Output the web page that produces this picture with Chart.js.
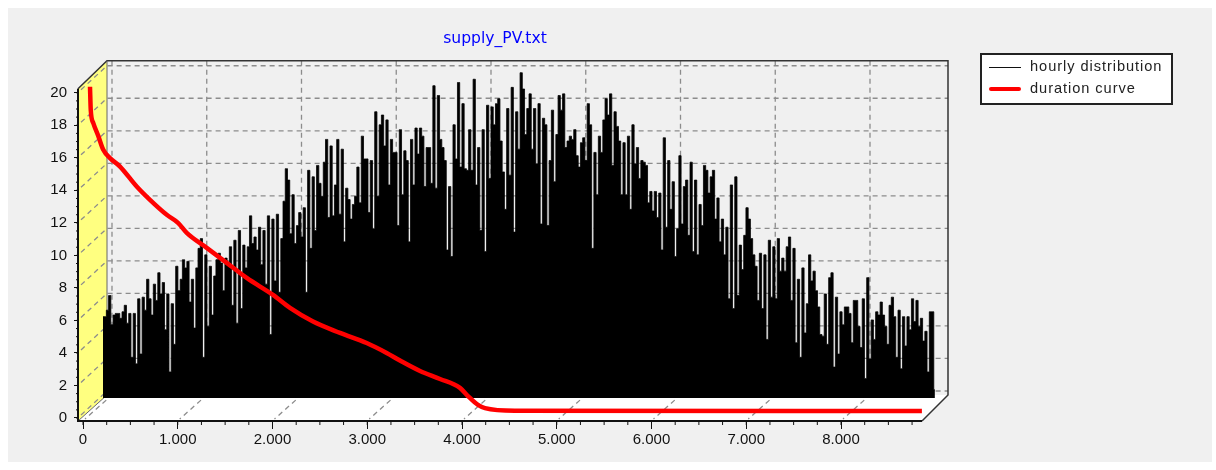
<!DOCTYPE html>
<html>
<head>
<meta charset="utf-8">
<title>supply_PV.txt</title>
<script src="https://cdn.jsdelivr.net/npm/chart.js@4"></script>
<style>
  html, body { margin: 0; padding: 0; background: #fff; }
  #panel { position: absolute; left: 8px; top: 8px; width: 1204px; height: 454px; background: #f0f0f0; }
  #wrap { position: absolute; left: 0; top: 0; width: 990px; height: 470px; filter: blur(0.45px); }
  #legend { position: absolute; left: 980px; top: 53px; width: 189px; height: 48px; background: #fff; border: 2px solid #222;
    font: 14.6px "Liberation Sans", Arial, sans-serif; letter-spacing: 0.95px; color: #222; filter: blur(0.45px); }
  #legend div { position: absolute; left: 48px; white-space: nowrap; }
  #legend i { position: absolute; left: 7px; width: 32px; }
</style>
</head>
<body>
<div id="panel"></div>
<div id="wrap"><canvas id="chart" width="990" height="470"></canvas></div>
<div id="legend"></div>
<script>
const TITLE = 'supply_PV.txt';
const HOURLY_LABEL = 'hourly distribution';
const DURATION_LABEL = 'duration curve';

const xTickValues = [0, 1000, 2000, 3000, 4000, 5000, 6000, 7000, 8000];
const xTickLabels = ['0', '1.000', '2.000', '3.000', '4.000', '5.000', '6.000', '7.000', '8.000'];
const yTickValues = [0, 2, 4, 6, 8, 10, 12, 14, 16, 18, 20];

// left to right, about one value per day
const hourlyPeaks = [
  5.0, 5.0, 5.4, 6.3, 4.5, 5.1, 5.2, 5.2, 4.9, 5.3, 5.7, 4.6, 5.2, 2.5, 5.2, 2.1, 6.1, 2.7, 6.2, 5.4,
  7.3, 6.1, 5.1, 7.0, 6.0, 7.7, 6.4, 7.1, 4.2, 6.4, 1.6, 5.8, 3.3, 8.1, 6.6, 7.3, 8.5, 8.0, 8.4, 5.9,
  7.3, 4.3, 8.0, 9.2, 9.8, 2.5, 8.8, 4.4, 8.1, 5.1, 7.5, 8.5, 8.9, 8.3, 6.6, 8.6, 8.2, 9.3, 5.7, 9.7,
  4.6, 10.3, 5.5, 9.4, 8.0,
  9.3, 11.2, 9.5, 9.9, 9.1, 10.5, 8.2, 10.3, 7.0, 11.2, 3.9, 11.0, 7.2, 11.3, 6.5, 9.8, 12.1, 14.1, 13.4, 10.1,
  12.5, 9.5, 10.6, 11.4, 9.9, 11.7, 6.5, 14.0, 9.2, 13.6, 10.3, 14.3, 13.2, 12.4, 14.5, 15.9, 11.1, 15.5, 11.2, 13.1,
  15.9, 11.3, 15.3, 9.6, 12.9, 12.2, 11.0, 11.9, 12.4, 14.2, 12.0, 16.1, 14.7, 14.7, 11.4, 14.6, 10.4, 17.6, 12.4, 16.8,
  17.4, 15.5, 17.1, 13.1, 15.9, 15.1,
  15.1, 10.6, 16.5, 12.5, 15.2, 14.6, 9.6, 15.9, 13.1, 16.6, 15.0, 16.6, 16.1, 13.0, 15.4, 15.4, 13.2, 19.2, 12.9, 18.6,
  15.9, 15.4, 14.6, 9.1, 13.0, 8.7, 16.8, 14.7, 19.4, 14.2, 18.1, 14.1, 14.0, 16.5, 14.0, 19.6, 13.1, 15.4, 10.3, 16.5,
  9.0, 18.0, 13.5, 17.9, 16.8, 18.1, 18.4, 15.8, 13.9, 11.6, 17.8, 13.7, 19.1, 10.2, 17.6, 15.3, 20.0, 19.0, 16.2, 17.8,
  18.7, 15.3, 17.8, 14.4, 18.1, 10.7, 17.2,
  16.8, 10.6, 14.6, 17.7, 13.3, 16.2, 18.6, 17.7, 18.7, 15.4, 15.8, 16.1, 15.9, 16.5, 14.9, 14.2, 15.7, 16.0, 14.6, 18.1,
  16.8, 9.2, 15.1, 12.5, 16.1, 15.1, 17.1, 18.4, 17.4, 18.7, 14.3, 17.6, 16.7, 15.8, 12.5, 15.7, 12.5, 16.1, 11.6, 16.8,
  14.4, 15.4, 13.5, 14.6, 14.5, 14.3, 12.0, 12.7, 11.5, 12.7, 11.1, 12.6, 9.1, 16.0, 10.5, 14.6, 11.6, 13.3, 8.7, 10.4,
  14.9, 10.7, 13.0, 13.4, 10.0, 14.5, 9.0, 13.4, 8.8, 11.9, 10.6, 14.3,
  14.0, 12.6, 13.6, 14.0, 11.0, 12.3, 9.6, 11.0, 8.8, 10.5, 6.1, 13.1, 5.5, 13.6, 6.3, 9.4, 7.9, 10.0, 11.7, 11.0,
  9.8, 8.8, 8.1, 6.0, 8.9, 5.5, 8.8, 3.6, 9.7, 6.2, 9.3, 6.1, 9.8, 7.8, 8.6, 7.8, 9.3, 9.9, 6.0, 9.2,
  3.4, 7.3, 2.5, 8.0, 4.0, 5.8, 8.8, 7.2, 7.8, 6.6, 5.6, 3.9,
  3.8, 6.4, 3.3, 7.4, 7.7, 1.9, 6.2, 2.7, 5.3, 4.5, 5.6, 5.6, 5.2, 3.4, 6.0, 6.0, 4.4, 3.1, 6.1, 1.2,
  7.4, 2.4, 4.8, 3.6, 5.3, 5.1, 5.9, 5.1, 4.4, 3.3, 5.7, 6.2, 5.0, 2.5, 5.4, 1.8, 5.0, 3.2, 5.0, 4.2,
  6.1, 4.7, 6.0, 4.4, 4.9, 3.5, 4.1, 1.6, 5.3, 5.3, 0.5
];

const durationHours = [0, 8, 35, 88, 140, 211, 317, 493, 633, 810, 929, 1021, 1232, 1443, 1654, 1931, 2111, 2354, 2639, 2920, 3131, 3272, 3483, 3694, 3905, 3989, 4095, 4169, 4485, 8780];
const durationValues = [19.94, 18.5, 17.7, 16.9, 16.06, 15.55, 15.03, 13.8, 12.98, 12.06, 11.57, 10.95, 10.03, 9.11, 8.18, 7.14, 6.34, 5.5, 4.8, 4.18, 3.57, 3.1, 2.46, 1.97, 1.42, 0.92, 0.37, 0.18, 0.02, 0.0];

const HOURS_PER_YEAR = 8780;
const PX_PER_HOUR = 0.09475;
const PX_PER_UNIT = 16.25;
const AREA_LEFT = 78, AREA_RIGHT = 948, AREA_TOP = 61, AREA_BOTTOM = 421;
const FRONT_ZERO_X = 83, FRONT_ZERO_Y = 418;
const WALL_DEPTH_X = 29, WALL_DEPTH_Y = 27;

// the fake 3D: each series sits at its own depth, so it gets scales pushed back by a few pixels
function depthX(dx) {
  return {
    type: 'linear', display: false,
    min: (AREA_LEFT - FRONT_ZERO_X - dx) / PX_PER_HOUR,
    max: (AREA_RIGHT - FRONT_ZERO_X - dx) / PX_PER_HOUR
  };
}
function depthY(dy) {
  return {
    type: 'linear', display: false,
    min: (FRONT_ZERO_Y - dy - AREA_BOTTOM) / PX_PER_UNIT,
    max: (FRONT_ZERO_Y - dy - AREA_TOP) / PX_PER_UNIT
  };
}

const hourlyPoints = hourlyPeaks.map((v, i) => ({ x: i * HOURS_PER_YEAR / (hourlyPeaks.length - 1), y: v }));
const durationPoints = durationHours.map((h, i) => ({ x: h, y: durationValues[i] }));

const chart3d = {
  id: 'chart3d',
  beforeDatasetsDraw(chart) {
    const ctx = chart.ctx;
    const { left, right, top, bottom } = chart.chartArea;
    const x = chart.scales.x, y = chart.scales.y;
    const frontTop = top + WALL_DEPTH_Y + 1;
    const backBottom = bottom - 26;
    const frontRight = right - 26;

    ctx.save();
    // left wall
    ctx.fillStyle = '#ffff80';
    ctx.beginPath();
    ctx.moveTo(left, frontTop);
    ctx.lineTo(left + WALL_DEPTH_X, top);
    ctx.lineTo(left + WALL_DEPTH_X, backBottom);
    ctx.lineTo(left, bottom);
    ctx.closePath();
    ctx.fill();
    // floor
    ctx.fillStyle = '#ffffff';
    ctx.beginPath();
    ctx.moveTo(left, bottom);
    ctx.lineTo(left + WALL_DEPTH_X, backBottom);
    ctx.lineTo(right, backBottom);
    ctx.lineTo(frontRight, bottom);
    ctx.closePath();
    ctx.fill();

    // dashed grid on back wall, left wall and floor
    ctx.strokeStyle = '#8c8c8c';
    ctx.lineWidth = 1.3;
    ctx.setLineDash([5, 4]);
    yTickValues.forEach(v => {
      const py = y.getPixelForValue(v);
      ctx.beginPath();
      ctx.moveTo(left + 3, py - 3);
      ctx.lineTo(left + WALL_DEPTH_X, py - WALL_DEPTH_Y);
      ctx.lineTo(right, py - WALL_DEPTH_Y);
      ctx.stroke();
    });
    xTickValues.forEach(v => {
      const px = x.getPixelForValue(v);
      ctx.beginPath();
      ctx.moveTo(px + WALL_DEPTH_X, top);
      ctx.lineTo(px + WALL_DEPTH_X, backBottom);
      ctx.lineTo(px + 2, bottom - 2);
      ctx.stroke();
    });
    ctx.setLineDash([]);

    // box outline behind the series
    ctx.strokeStyle = '#333333';
    ctx.lineWidth = 1.5;
    ctx.beginPath();
    ctx.moveTo(left, frontTop);
    ctx.lineTo(left + WALL_DEPTH_X, top);
    ctx.lineTo(right, top);
    ctx.lineTo(right, backBottom);
    ctx.lineTo(frontRight, bottom);
    ctx.stroke();
    ctx.strokeStyle = '#666666';
    ctx.lineWidth = 1;
    ctx.beginPath();
    ctx.moveTo(left + WALL_DEPTH_X, top);
    ctx.lineTo(left + WALL_DEPTH_X, backBottom);
    ctx.lineTo(left, bottom);
    ctx.stroke();
    ctx.restore();
  },
  afterDatasetsDraw(chart) {
    const ctx = chart.ctx;
    const { left, right, top, bottom } = chart.chartArea;
    const x = chart.scales.x, y = chart.scales.y;
    const frontTop = top + WALL_DEPTH_Y + 1;
    ctx.save();
    ctx.strokeStyle = '#111111';
    ctx.lineWidth = 2;
    ctx.beginPath();
    ctx.moveTo(left, frontTop);
    ctx.lineTo(left, bottom);
    ctx.lineTo(right - 26, bottom);
    ctx.stroke();
    // minor ticks
    ctx.lineWidth = 1;
    ctx.beginPath();
    for (let h = 0; h <= 8750; h += 250) {
      const px = x.getPixelForValue(h);
      ctx.moveTo(px, bottom);
      ctx.lineTo(px, bottom + 4);
    }
    for (let v = 0; v <= 20; v += 0.5) {
      const py = y.getPixelForValue(v);
      ctx.moveTo(left, py);
      ctx.lineTo(left - 2, py);
    }
    ctx.stroke();
    ctx.restore();
  }
};

new Chart(document.getElementById('chart'), {
  type: 'line',
  data: {
    datasets: [{
      label: DURATION_LABEL,
      data: durationPoints,
      xAxisID: 'xDuration',
      yAxisID: 'yDuration',
      borderColor: '#ff0000',
      borderWidth: 4.5,
      pointRadius: 0,
      cubicInterpolationMode: 'monotone',
      fill: false,
      order: 0
    }, {
      label: HOURLY_LABEL,
      data: hourlyPoints,
      xAxisID: 'xHourly',
      yAxisID: 'yHourly',
      borderColor: '#000000',
      backgroundColor: '#000000',
      borderWidth: 0.8,
      pointRadius: 0,
      stepped: 'middle',
      fill: 'origin',
      order: 1
    }]
  },
  options: {
    responsive: false,
    animation: false,
    layout: { padding: { left: 42, right: 42, top: 0, bottom: 0 } },
    plugins: {
      legend: { display: false },
      tooltip: { enabled: false },
      title: {
        display: true,
        text: TITLE,
        color: '#0000ff',
        font: { family: '"DejaVu Sans", sans-serif', size: 15.6, weight: 'normal' },
        padding: { top: 30, bottom: 12 }
      }
    },
    scales: {
      x: {
        type: 'linear',
        position: 'bottom',
        min: (AREA_LEFT - FRONT_ZERO_X) / PX_PER_HOUR,
        max: (AREA_RIGHT - FRONT_ZERO_X) / PX_PER_HOUR,
        afterBuildTicks: s => { s.ticks = xTickValues.map(v => ({ value: v })); },
        afterFit: s => { s.height = 470 - AREA_BOTTOM; },
        border: { display: false },
        grid: { drawOnChartArea: false, tickColor: '#111', tickLength: 8 },
        ticks: {
          autoSkip: false, maxRotation: 0, color: '#111', padding: 2,
          font: { family: '"Liberation Sans", Arial, sans-serif', size: 15 },
          callback: (v, i) => xTickLabels[i]
        }
      },
      y: {
        type: 'linear',
        position: 'left',
        min: (FRONT_ZERO_Y - AREA_BOTTOM) / PX_PER_UNIT,
        max: (FRONT_ZERO_Y - AREA_TOP) / PX_PER_UNIT,
        afterBuildTicks: s => { s.ticks = yTickValues.map(v => ({ value: v })); },
        afterFit: s => { s.width = AREA_LEFT - 42; },
        border: { display: false },
        grid: { drawOnChartArea: false, tickColor: '#111', tickLength: 4 },
        ticks: {
          autoSkip: false, color: '#111', padding: 7,
          font: { family: '"Liberation Sans", Arial, sans-serif', size: 15 }
        }
      },
      xHourly: depthX(20),
      yHourly: depthY(20),
      xDuration: depthX(7),
      yDuration: depthY(7)
    }
  },
  plugins: [chart3d]
});

// legend box sits outside the canvas
document.getElementById('legend').innerHTML =
  '<i style="top:12px;height:1.3px;background:#111"></i><div style="top:3px">' + HOURLY_LABEL + '</div>' +
  '<i style="top:32px;height:4px;background:#ff0000;border-radius:2px"></i><div style="top:25px">' + DURATION_LABEL + '</div>';
</script>
</body>
</html>
